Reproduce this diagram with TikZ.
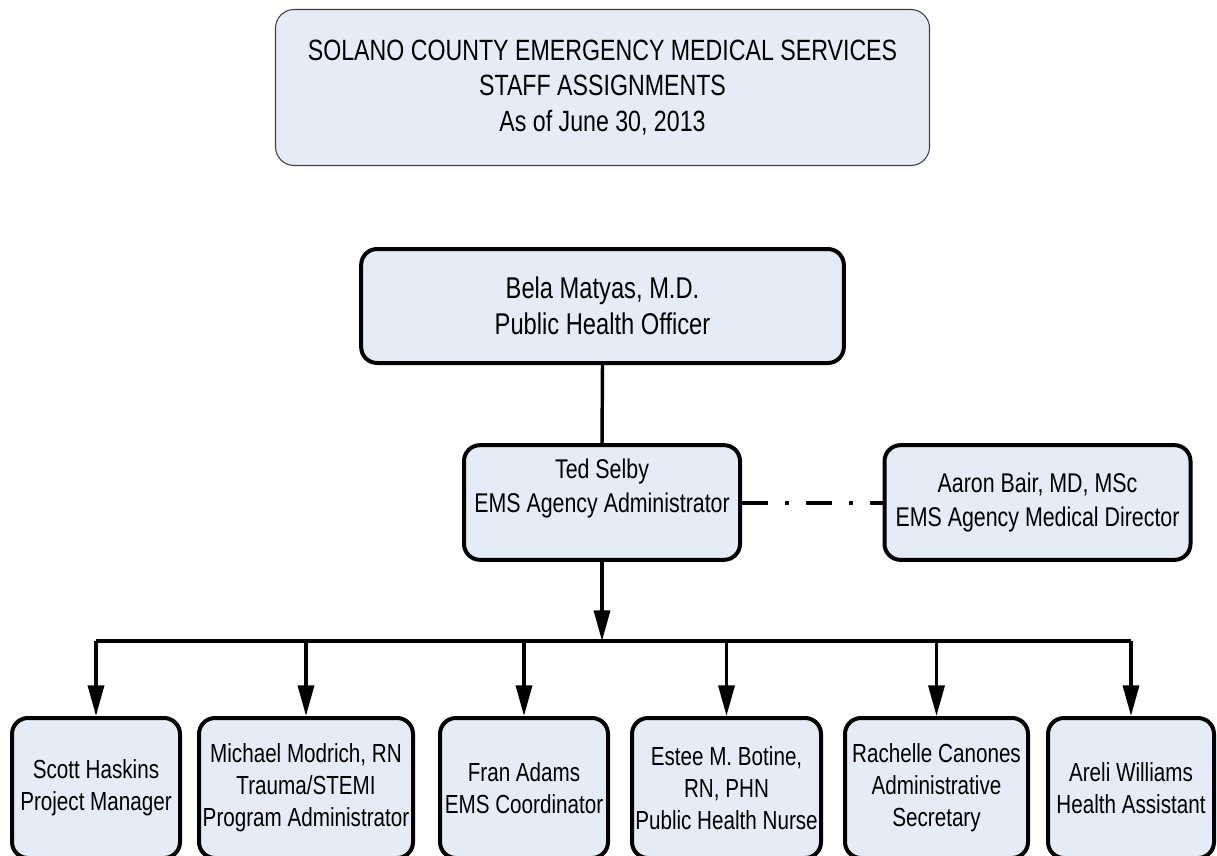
\documentclass[tikz,border=0pt]{standalone}
\usepackage{fontspec}
\setmainfont{Liberation Sans}[FakeStretch=0.79]
\usetikzlibrary{arrows.meta}
\definecolor{boxfill}{RGB}{230,236,247}
\tikzset{
  titlebox/.style={draw=black!75, fill=boxfill, line width=0.8pt, rounded corners=14pt,
    align=center, inner sep=0pt, font=\fontsize{22}{26.5}\selectfont},
  staffbox/.style={draw, fill=boxfill, line width=3pt, rounded corners=12pt,
    align=center, inner sep=0pt},
  link/.style={line width=2.6pt},
  downarrow/.style={-{Triangle[length=23pt,width=12pt]}},
  dotdash/.style={line width=3pt, dash pattern=on 19.5pt off 13pt on 2.5pt off 13pt}
}
\begin{document}
\begin{tikzpicture}[x=0.75pt,y=-0.75pt]
\useasboundingbox (0,0) rectangle (1217,856);

\node[titlebox, minimum width=490.5pt, minimum height=117pt] (title) at (602.5,87.5)
  {SOLANO COUNTY EMERGENCY MEDICAL SERVICES\\STAFF ASSIGNMENTS\\As of June 30, 2013};

\node[staffbox, minimum width=362pt, minimum height=85.5pt, font=\fontsize{22.5}{27}\selectfont] (bela) at (602.5,306)
  {Bela Matyas, M.D.\\Public Health Officer};
\node[staffbox, minimum width=207pt, minimum height=86pt, font=\fontsize{20.3}{25}\selectfont] (ted) at (602,502.5)
  {Ted Selby\\EMS Agency Administrator\\\mbox{}};
\node[staffbox, minimum width=229.5pt, minimum height=86pt, font=\fontsize{20.3}{25}\selectfont] (aaron) at (1037.5,502.5)
  {Aaron Bair, MD, MSc\\EMS Agency Medical Director};

\begin{scope}[every node/.style={staffbox, minimum height=105pt, font=\fontsize{19.6}{24}\selectfont}]
\node[minimum width=126pt] (scott) at (96,788) {Scott Haskins\\Project Manager};
\node[minimum width=160.5pt] (michael) at (306,788) {Michael Modrich, RN\\Trauma/STEMI\\Program Administrator};
\node[minimum width=126pt] (fran) at (524,788) {Fran Adams\\EMS Coordinator};
\node[minimum width=141.75pt] (estee) at (726.5,788) {Estee M. Botine,\\RN, PHN\\Public Health Nurse};
\node[minimum width=137.25pt] (rachelle) at (936.5,788) {Rachelle Canones\\Administrative\\Secretary};
\node[minimum width=124.5pt] (areli) at (1131,788) {Areli Williams\\Health Assistant};
\end{scope}

\coordinate (bus) at (602,641);

\draw[link] (bela.south) -- (ted.north);
\draw[dotdash] (ted.east) -- (aaron.west);
\draw[link, downarrow] (ted.south) -- (bus);
\draw[link] (bus -| scott.north) -- (bus -| areli.north);
\foreach \who in {scott,michael,fran,estee,rachelle,areli}
  \draw[link, downarrow] (bus -| \who.north) -- (\who.north);
\end{tikzpicture}
\end{document}
